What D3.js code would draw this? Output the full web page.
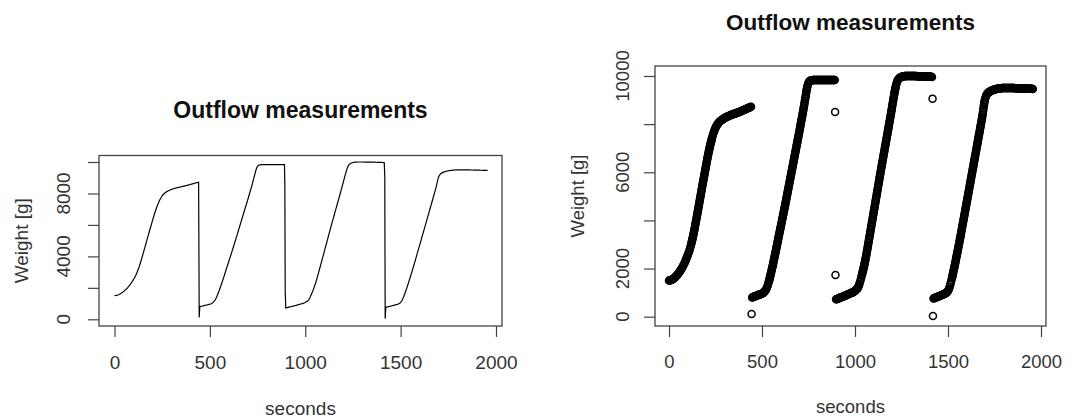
<!DOCTYPE html>
<html>
<head>
<meta charset="utf-8">
<script src="https://cdn.jsdelivr.net/npm/d3@7"></script>
<style>
body { margin: 0; background: white; }
text { font-family: "Liberation Sans", Arial, sans-serif; }
</style>
</head>
<body>
<div id="chart"></div>
<script>
// readings are 3 s apart inside each fill cycle
let step = 3;
let cycleStarts = [0, 447, 898, 1422];

let cycle1 = [
  1500,1506,1512,1520,1528,1537,1548,1562,1578,1598,
  1620,1642,1665,1690,1716,1744,1773,1804,1836,1868,
  1900,1937,1975,2015,2057,2100,2145,2193,2243,2295,
  2350,2405,2462,2520,2580,2645,2712,2782,2860,2945,
  3035,3130,3230,3330,3445,3560,3675,3795,3920,4045,
  4170,4300,4430,4560,4690,4820,4950,5080,5210,5340,
  5470,5600,5725,5850,5975,6100,6225,6350,6475,6600,
  6720,6830,6935,7040,7140,7235,7325,7415,7500,7580,
  7650,7715,7775,7830,7880,7925,7965,8000,8032,8060,
  8085,8107,8128,8148,8167,8185,8202,8218,8233,8247,
  8260,8273,8285,8297,8308,8319,8330,8340,8350,8360,
  8369,8378,8387,8396,8405,8413,8421,8429,8437,8445,
  8453,8462,8471,8480,8489,8498,8507,8516,8525,8534,
  8545,8556,8567,8578,8588,8598,8608,8618,8628,8638,
  8648,8658,8668,8678,8688,8698,8708,8718
];
let cycle2 = [
  800,810,819,828,837,846,855,864,873,882,
  891,900,909,918,927,936,945,954,964,975,
  990,1010,1035,1065,1098,1135,1180,1240,1310,1385,
  1465,1550,1645,1740,1840,1940,2040,2140,2245,2355,
  2465,2575,2685,2800,2915,3030,3145,3260,3375,3490,
  3600,3710,3820,3935,4050,4165,4280,4395,4510,4625,
  4740,4860,4980,5100,5220,5340,5460,5580,5700,5820,
  5940,6060,6180,6300,6420,6540,6660,6780,6900,7020,
  7140,7260,7380,7500,7620,7745,7870,7995,8120,8245,
  8370,8495,8625,8760,8900,9040,9180,9330,9460,9570,
  9660,9720,9765,9790,9805,9815,9820,9825,9828,
  9830,9830,9831,9830,9830,9831,9830,9830,9830,9831,
  9830,9830,9831,9830,9830,9830,9831,9830,9830,9830,
  9831,9830,9830,9830,9831,9830,9830,9830,9831,9830,
  9830,9830,9831,9830,9830,9830,9831,9830,9830,9830
];
let cycle3 = [
  720,730,740,750,760,769,778,787,796,805,
  814,823,832,841,850,860,870,880,890,900,
  910,920,930,940,950,960,970,980,990,1000,
  1012,1025,1040,1056,1075,1095,1115,1138,1162,1190,
  1240,1300,1370,1445,1525,1610,1700,1790,1885,1980,
  2080,2185,2295,2410,2530,2660,2790,2925,3060,3195,
  3330,3465,3600,3735,3870,4005,4140,4275,4410,4545,
  4680,4815,4950,5085,5220,5355,5490,5625,5760,5895,
  6030,6160,6290,6420,6550,6680,6810,6940,7070,7200,
  7330,7460,7590,7720,7850,7980,8110,8240,8375,8510,
  8650,8790,8930,9070,9200,9330,9450,9560,9660,9740,
  9800,9845,9880,9905,9925,9940,9952,9962,9970,9977,
  9983,9988,9992,9995,9998,
  10000,10000,10000,10000,10000,10000,10000,10000,10000,10000,
  9999,9999,9998,9998,9997,9997,9996,9996,9995,9995,
  9994,9994,9993,9993,9992,9992,9991,9990,9989,9988,
  9987,9986,9985,9984,9983,9982,9981,9980,9979,9978,
  9976,9974,9972,9970,9968,9966,9964,9962
];
let cycle4 = [
  760,769,778,787,796,805,814,823,832,841,
  850,860,870,880,890,900,910,920,930,940,
  951,963,976,992,1012,1040,1075,1120,1175,1245,
  1325,1410,1500,1595,1695,1800,1905,2015,2125,2235,
  2350,2465,2580,2695,2815,2935,3055,3175,3295,3420,
  3545,3670,3795,3920,4045,4170,4300,4430,4555,4680,
  4810,4940,5065,5190,5320,5450,5575,5700,5830,5960,
  6085,6210,6340,6470,6595,6720,6850,6980,7105,7230,
  7360,7490,7615,7740,7870,8000,8130,8260,8400,8560,
  8730,8880,9000,9090,9160,9210,9250,9280,9305,9325,
  9342,9357,9370,9382,9393,9403,9412,9421,9429,9437,
  9444,9451,9457,9463,9468,9473,9477,9481,9485,9488,
  9491,9494,9496,9498,9500,
  9500,9500,9500,9500,9500,9500,9500,9500,9500,9500,
  9500,9500,9500,9500,9500,9500,9500,9500,
  9499,9498,9497,9496,9495,9494,9493,9492,9491,9490,
  9489,9488,9487,9486,9485,9484,9483,9482,9481,9480,
  9479,9478,9477,9476,9475,9474,9473,9472,9471,9470,
  9469,9468,9467,9466,9465,9464
];

// during the fast rise the logger also wrote a reading halfway between
let riseStarts = [121.5, 538.5, 1037.5, 1522.5];
let rise1 = [
  3082,3180,3280,3387,3502,3617,3735,3857,3982,4107,
  4235,4365,4495,4625,4755,4885,5015,5145,5275,5405,
  5535,5662,5787,5912,6037,6162,6287,6412,6537,6660,
  6775,6882,6987,7090,7187,7280,7370
];
let rise2 = [
  1507,1597,1692,1790,1890,1990,2090,
  2192,2300,2410,2520,2630,2742,2857,2972,3087,3202,
  3317,3432,3545,3655,3765,3877,3992,4107,4222,4337,
  4452,4567,4682,4800,4920,5040,5160,5280,5400,5520,
  5640,5760,5880,6000,6120,6240,6360,6480,6600,6720,
  6840,6960,7080,7200,7320,7440,7560,7682,7807,7932,
  8057,8182,8307,8432,8560,8692,8830,8970,9110,9255,
  9395,9515
];
let rise3 = [
  1745,1837,1932,2030,
  2132,2240,2352,2470,2595,2725,2857,2992,3127,3262,
  3397,3532,3667,3802,3937,4072,4207,4342,4477,4612,
  4747,4882,5017,5152,5287,5422,5557,5692,5827,5962,
  6095,6225,6355,6485,6615,6745,6875,7005,7135,7265,
  7395,7525,7655,7785,7915,8045,8175,8307,8442,8580,
  8720,8860,9000,9135,9265,9390,9505,9610
];
let rise4 = [
  1645,1747,1852,1960,2070,
  2180,2292,2407,2522,2637,2755,2875,2995,3115,3235,
  3357,3482,3607,3732,3857,3982,4107,4235,4365,4492,
  4617,4745,4875,5002,5127,5255,5385,5512,5637,5765,
  5895,6022,6147,6275,6405,6532,6657,6785,6915,7042,
  7167,7295,7425,7552,7677,7805,7935,8065,8195,8330,
  8480,8645,8805,8940
];

// odd readings while the bucket is emptied
let spikeTimes = [444, 893, 895, 1417, 1419];
let spikeWeights = [110, 8500, 1730, 9060, 30];

let xTicks = [0, 500, 1000, 1500, 2000];
let yTicks = [0, 2000, 4000, 6000, 8000, 10000];
let leftYLabels = [0, 4000, 8000];
let rightYLabels = [0, 2000, 6000, 10000];

let mainTitle = "Outflow measurements";
let xTitle = "seconds";
let yTitle = "Weight [g]";

// put all readings in time order
let readings = [];
[cycle1, cycle2, cycle3, cycle4].forEach(function(c, k) {
  c.forEach(function(w, i) { readings.push({t: cycleStarts[k] + i*step, w: w}); });
});
[rise1, rise2, rise3, rise4].forEach(function(c, k) {
  c.forEach(function(w, i) { readings.push({t: riseStarts[k] + i*step, w: w}); });
});
spikeTimes.forEach(function(t, i) { readings.push({t: t, w: spikeWeights[i]}); });
readings.sort(function(a, b) { return a.t - b.t; });

let svg = d3.select("#chart").append("svg")
  .attr("width", 1077)
  .attr("height", 419)
  .attr("style", "background-color:white");

let panels = [
  { kind: "line", left: 99, top: 155.5, right: 502, bottom: 326,
    xr: [114.5, 496], yr: [319.3, 162], yLabels: leftYLabels,
    labOff: 36, titleY: 110, xTitleY: 408, yTitleX: 21.5, fs: 19, tfs: 23 },
  { kind: "points", left: 655, top: 66, right: 1046, bottom: 326,
    xr: [669, 1041], yr: [316.7, 76], yLabels: rightYLabels,
    labOff: 32, titleY: 22, xTitleY: 407, yTitleX: 578, fs: 18.5, tfs: 22.5 }
];

panels.forEach(drawPanel);

function drawPanel(p)
{
  let x = d3.scaleLinear().domain([0, 2000]).range(p.xr);
  let y = d3.scaleLinear().domain([0, 10000]).range(p.yr);
  let g = svg.append("g");
  let cx = (p.left + p.right) / 2;
  let cy = (p.top + p.bottom) / 2;

  if (p.kind == "line") {
    g.append("path")
      .datum(readings)
      .attr("fill", "none")
      .attr("stroke", "#000")
      .attr("stroke-width", 1.2)
      .attr("d", d3.line().x(function(d) { return x(d.t); }).y(function(d) { return y(d.w); }));
  } else {
    g.selectAll("circle")
      .data(readings)
      .enter().append("circle")
        .attr("cx", function(d) { return x(d.t); })
        .attr("cy", function(d) { return y(d.w); })
        .attr("r", 3.5)
        .attr("fill", "none")
        .attr("stroke", "#000")
        .attr("stroke-width", 1.5);
  }

  g.append("rect")
    .attr("x", p.left).attr("y", p.top)
    .attr("width", p.right - p.left).attr("height", p.bottom - p.top)
    .attr("fill", "none").attr("stroke", "#444").attr("stroke-width", 1.3);

  // x axis
  let xa = g.append("g")
    .attr("transform", "translate(0," + p.bottom + ")")
    .call(d3.axisBottom(x).tickValues(xTicks).tickSize(11).tickFormat(d3.format("d")));
  xa.select(".domain").remove();
  xa.selectAll("line").attr("stroke", "#444").attr("stroke-width", 1.2);
  xa.selectAll("text")
    .attr("y", 36).attr("dy", "0.35em")
    .attr("fill", "#333")
    .style("font-size", p.fs + "px")
    .style("font-family", "'Liberation Sans', Arial, sans-serif");

  // y axis, labels drawn rotated like R does
  let ya = g.append("g")
    .attr("transform", "translate(" + p.left + ",0)")
    .call(d3.axisLeft(y).tickValues(yTicks).tickSize(11).tickFormat(""));
  ya.select(".domain").remove();
  ya.selectAll("line").attr("stroke", "#444").attr("stroke-width", 1.2);

  g.selectAll("text.ylab")
    .data(p.yLabels)
    .enter().append("text")
      .attr("class", "ylab")
      .attr("transform", function(d) { return "translate(" + (p.left - p.labOff) + "," + y(d) + ") rotate(-90)"; })
      .attr("text-anchor", "middle")
      .attr("dy", "0.35em")
      .attr("fill", "#333")
      .style("font-size", p.fs + "px")
      .text(function(d) { return d; });

  g.append("text")
    .attr("x", cx).attr("y", p.titleY).attr("dy", "0.35em")
    .attr("text-anchor", "middle")
    .attr("fill", "#111")
    .style("font-size", p.tfs + "px").style("font-weight", "bold")
    .text(mainTitle);

  g.append("text")
    .attr("x", cx).attr("y", p.xTitleY).attr("dy", "0.35em")
    .attr("text-anchor", "middle")
    .attr("fill", "#333")
    .style("font-size", p.fs + "px")
    .text(xTitle);

  g.append("text")
    .attr("transform", "translate(" + p.yTitleX + "," + cy + ") rotate(-90)")
    .attr("text-anchor", "middle")
    .attr("dy", "0.35em")
    .attr("fill", "#333")
    .style("font-size", p.fs + "px")
    .text(yTitle);
}
</script>
</body>
</html>
